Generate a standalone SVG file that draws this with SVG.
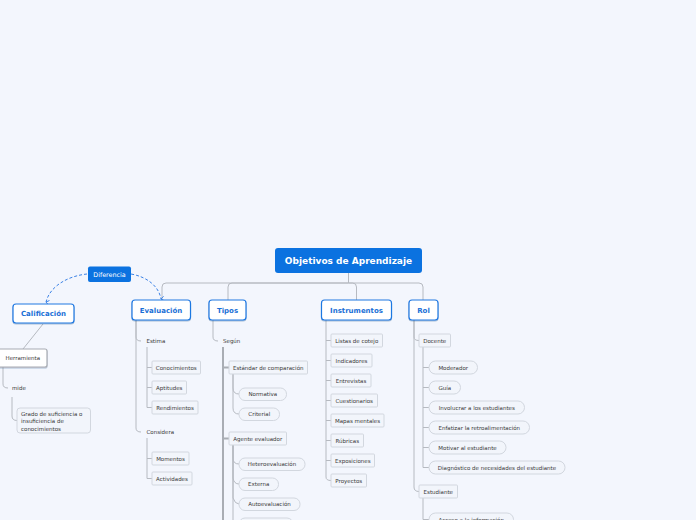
<svg xmlns="http://www.w3.org/2000/svg" width="696" height="520" viewBox="0 0 696 520">
<defs>
<filter id="sh" x="-20%" y="-20%" width="140%" height="160%"><feDropShadow dx="0" dy="1" stdDeviation="0.6" flood-color="#0a3d7a" flood-opacity="0.3"/></filter>
<marker id="ah" viewBox="0 0 8 8" refX="4" refY="7" markerWidth="6" markerHeight="6" orient="auto-start-reverse" markerUnits="userSpaceOnUse"><path d="M1,3 L4,7 L7,3" fill="none" stroke="#3b82e6" stroke-width="1.2"/></marker>
</defs>
<style>
.main{fill:#fff;stroke:#1f78e2;stroke-width:1.2}
.mt{font-family:"DejaVu Sans",Verdana,sans-serif;font-weight:bold;font-size:7px;fill:#1a6fd6;text-anchor:middle}
.box{fill:#f2f5fb;stroke:#d2d7df;stroke-width:1}
.t{font-family:"DejaVu Sans",Verdana,sans-serif;font-size:5.5px;fill:#383838}
.c{text-anchor:middle}
.ln{fill:none;stroke:#b6bac1;stroke-width:1}
.ln2{fill:none;stroke:#a9adb4;stroke-width:2}
.dash{fill:none;stroke:#3b82e6;stroke-width:1;stroke-dasharray:3 2}
</style>
<rect width="696" height="520" fill="#f3f6fd"/>
<g id="connectors">
<path class="ln" d="M348.5,273 V283 M348.5,283 H166 Q162,283 162,287 V300 M348.5,283 H232 Q228,283 228,287 V300 M348.5,283 H352.5 Q356.5,283 356.5,287 V300 M348.5,283 H419 Q423,283 423,287 V300"/>
<path class="dash" marker-end="url(#ah)" d="M87,274 C68,276 50,286 46,302"/>
<path class="dash" marker-end="url(#ah)" d="M131,274 C148,277 159,287 161,299"/>
<path class="ln" d="M43,324 L23,349"/>
<path class="ln" d="M3,367 V384 Q3,388 8,388"/>
<path class="ln" d="M12,397 V416 Q12,420.5 17,420.5"/>
<path class="ln" d="M136,320 V337 Q136,341 141,341 M136,320 V428 Q136,432 141,432"/>
<path class="ln" d="M147,347 V407.5 H152 M147,367.5 H152 M147,387.5 H152"/>
<path class="ln" d="M147,438 V478.5 H152 M147,458.5 H152"/>
<path class="ln" d="M213,320 V337 Q213,341 218,341"/>
<path class="ln2" d="M223,347 V520 M223,367.5 H229 M223,438.5 H229"/>
<path class="ln" d="M233,374 V388 Q233,394 239,394 M233,374 V408 Q233,414 239,414"/>
<path class="ln" d="M233,445 V458 Q233,464 239,464 M233,445 V478 Q234,484 239,484 M233,445 V498 Q235,504 239,504 M233,445 V520"/>
<path class="ln" d="M326,320 V477 Q326,480.5 331,480.5 M326,340.5 H331 M326,360.5 H331 M326,380.5 H331 M326,400.5 H331 M326,420.5 H331 M326,440.5 H331 M326,460.5 H331"/>
<path class="ln" d="M414,320 V337 Q414,340.5 419,340.5 M414,320 V487 Q414,491.5 419,491.5"/>
<path class="ln" d="M423,347 V467.5 H429 M423,367.5 H429 M423,387.5 H429 M423,407.5 H429 M423,427.5 H429 M423,447.5 H429"/>
<path class="ln" d="M423,498 V519.5 H429"/>
</g>
<g id="root"><rect x="275" y="248" width="147" height="25" rx="3" fill="#0b72e0"/><text x="348.5" y="264" font-family="DejaVu Sans,Verdana,sans-serif" font-weight="bold" font-size="9px" fill="#fff" text-anchor="middle">Objetivos de Aprendizaje</text></g>
<g id="diferencia"><rect x="88" y="266.5" width="43" height="15.5" rx="2" fill="#0b72e0"/><text x="109.5" y="276.5" font-family="DejaVu Sans,Verdana,sans-serif" font-size="6.4px" fill="#fff" text-anchor="middle">Diferencia</text></g>
<g id="calificacion"><rect class="main" filter="url(#sh)" x="13" y="304" width="61" height="19" rx="3"/><text class="mt" x="43.5" y="316">Calificación</text></g>
<g id="evaluacion"><rect class="main" filter="url(#sh)" x="132" y="300" width="58.5" height="20" rx="3"/><text class="mt" x="161" y="312.5">Evaluación</text></g>
<g id="tipos"><rect class="main" filter="url(#sh)" x="209" y="300" width="37" height="20" rx="3"/><text class="mt" x="227.5" y="312.5">Tipos</text></g>
<g id="instrumentos"><rect class="main" filter="url(#sh)" x="321.5" y="300" width="70" height="20" rx="3"/><text class="mt" x="356.5" y="312.5">Instrumentos</text></g>
<g id="rol"><rect class="main" filter="url(#sh)" x="409" y="300" width="29" height="20" rx="3"/><text class="mt" x="423.5" y="312.5">Rol</text></g>
<g id="herramienta"><rect x="-5" y="349" width="52" height="18" rx="2" fill="#fff" stroke="#a8acb3" stroke-width="1.2" filter="url(#sh)"/><text class="t" x="5.5" y="360">Herramienta</text></g>
<g id="mide"><text class="t" x="12" y="390">mide</text></g>
<g id="grado"><rect class="box" x="17" y="408" width="73.5" height="25" rx="3"/><text class="t" x="21" y="416">Grado de suficiencia o</text><text class="t" x="21" y="423">insuficiencia de</text><text class="t" x="21" y="430.5">conocimientos</text></g>
<g id="estima"><text class="t" x="146.5" y="343">Estima</text></g>
<g id="conocimientos"><rect class="box" x="152" y="361" width="48.5" height="13" rx="1"/><text class="t c" x="176.25" y="369.5">Conocimientos</text></g>
<g id="aptitudes"><rect class="box" x="152" y="381" width="34.5" height="13" rx="1"/><text class="t c" x="169.25" y="389.5">Aptitudes</text></g>
<g id="rendimientos"><rect class="box" x="152" y="401" width="46" height="13" rx="1"/><text class="t c" x="175" y="409.5">Rendimientos</text></g>
<g id="considera"><text class="t" x="146.5" y="434">Considera</text></g>
<g id="momentos"><rect class="box" x="152" y="452" width="37" height="13" rx="1"/><text class="t c" x="170.5" y="460.5">Momentos</text></g>
<g id="actividades"><rect class="box" x="152" y="472" width="40" height="13" rx="1"/><text class="t c" x="172" y="480.5">Actividades</text></g>
<g id="segun"><text class="t" x="223" y="343">Según</text></g>
<g id="estandar"><rect class="box" x="229" y="361" width="78.5" height="13" rx="1"/><text class="t c" x="268.25" y="369.5">Estándar de comparación</text></g>
<g id="normativa"><rect class="box" x="239" y="388" width="47.5" height="12.5" rx="6"/><text class="t c" x="262.75" y="396.3">Normativa</text></g>
<g id="criterial"><rect class="box" x="239" y="408" width="40.5" height="12.5" rx="6"/><text class="t c" x="259.25" y="416.3">Criterial</text></g>
<g id="agente"><rect class="box" x="229" y="432" width="57.5" height="13" rx="1"/><text class="t c" x="257.75" y="440.5">Agente evaluador</text></g>
<g id="heteroevaluacion"><rect class="box" x="239" y="458" width="66" height="12.5" rx="6"/><text class="t c" x="272" y="466.3">Heteroevaluación</text></g>
<g id="externa"><rect class="box" x="239" y="478" width="39.5" height="12.5" rx="6"/><text class="t c" x="258.75" y="486.3">Externa</text></g>
<g id="autoevaluacion"><rect class="box" x="239" y="498" width="61" height="12.5" rx="6"/><text class="t c" x="269.5" y="506.3">Autoevaluación</text></g>
<g id="tipo-extra"><rect class="box" x="239" y="518" width="54" height="12.5" rx="6"/></g>
<g id="listas"><rect class="box" x="331" y="334" width="51.5" height="13" rx="1"/><text class="t c" x="356.75" y="342.5">Listas de cotejo</text></g>
<g id="indicadores"><rect class="box" x="331" y="354" width="41" height="13" rx="1"/><text class="t c" x="351.5" y="362.5">Indicadores</text></g>
<g id="entrevistas"><rect class="box" x="331" y="374" width="40" height="13" rx="1"/><text class="t c" x="351" y="382.5">Entrevistas</text></g>
<g id="cuestionarios"><rect class="box" x="331" y="394" width="46.5" height="13" rx="1"/><text class="t c" x="354.25" y="402.5">Cuestionarios</text></g>
<g id="mapas"><rect class="box" x="331" y="414" width="53" height="13" rx="1"/><text class="t c" x="357.5" y="422.5">Mapas mentales</text></g>
<g id="rubricas"><rect class="box" x="331" y="434" width="32.5" height="13" rx="1"/><text class="t c" x="347.25" y="442.5">Rúbricas</text></g>
<g id="exposiciones"><rect class="box" x="331" y="454" width="43.5" height="13" rx="1"/><text class="t c" x="352.75" y="462.5">Exposiciones</text></g>
<g id="proyectos"><rect class="box" x="331" y="474" width="35.5" height="13" rx="1"/><text class="t c" x="348.75" y="482.5">Proyectos</text></g>
<g id="docente"><rect class="box" x="419" y="334" width="31.5" height="13" rx="1"/><text class="t c" x="434.75" y="342.5">Docente</text></g>
<g id="moderador"><rect class="box" x="429" y="361" width="48.5" height="13" rx="6.5"/><text class="t c" x="453.25" y="369.5">Moderador</text></g>
<g id="guia"><rect class="box" x="429" y="381" width="31.5" height="13" rx="6.5"/><text class="t c" x="444.75" y="389.5">Guía</text></g>
<g id="involucrar"><rect class="box" x="429" y="401" width="95.5" height="13" rx="6.5"/><text class="t c" x="476.75" y="409.5">Involucrar a los estudiantes</text></g>
<g id="enfatizar"><rect class="box" x="429" y="421" width="100.5" height="13" rx="6.5"/><text class="t c" x="479.25" y="429.5">Enfatizar la retroalimentación</text></g>
<g id="motivar"><rect class="box" x="429" y="441" width="77" height="13" rx="6.5"/><text class="t c" x="467.5" y="449.5">Motivar al estudiante</text></g>
<g id="diagnostico"><rect class="box" x="429" y="461" width="136" height="13" rx="6.5"/><text class="t c" x="497" y="469.5">Diagnóstico de necesidades del estudiante</text></g>
<g id="estudiante"><rect class="box" x="419" y="485" width="38.5" height="13" rx="1"/><text class="t c" x="438.25" y="493.5">Estudiante</text></g>
<g id="acceso"><rect class="box" x="429" y="513" width="84.5" height="13" rx="6.5"/><text class="t c" x="471.25" y="521.5">Acceso a la información</text></g>
</svg>
